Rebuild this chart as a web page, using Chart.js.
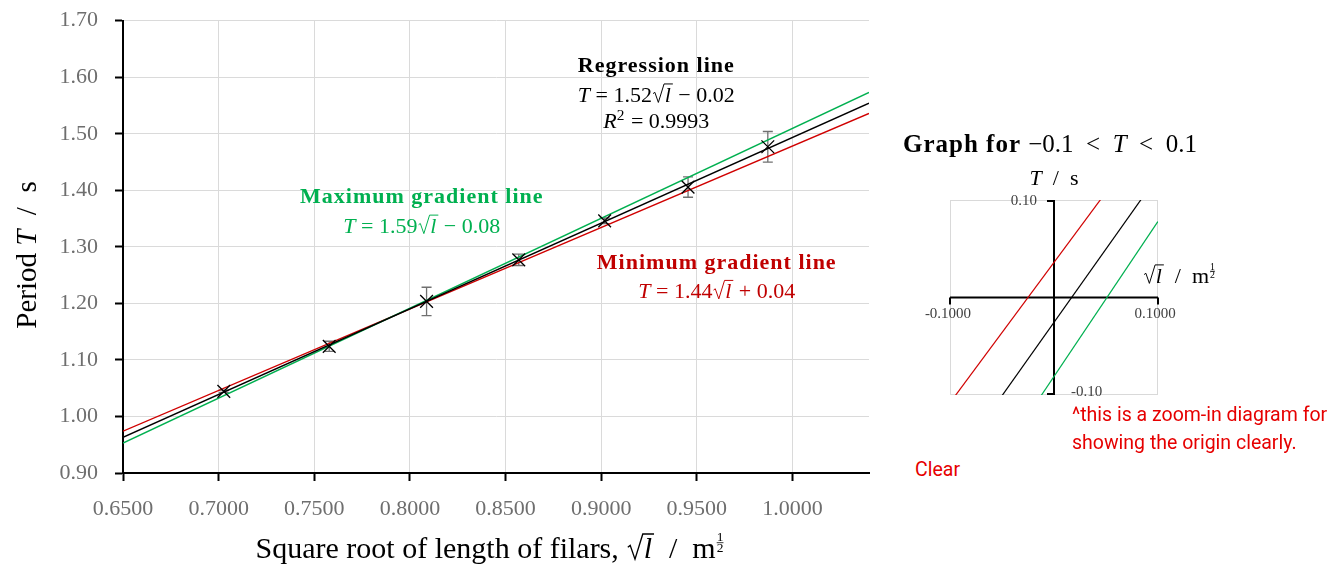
<!DOCTYPE html>
<html>
<head>
<meta charset="utf-8">
<script src="https://cdn.jsdelivr.net/npm/chart.js@4.4.1/dist/chart.umd.min.js"></script>
<style>
  body { margin: 0; background: #fff; width: 1330px; height: 565px; position: relative; overflow: hidden; }
  #main { position: absolute; left: 0; top: 0; }
  #zoom { position: absolute; left: 890px; top: 120px; }
  .note { position: absolute; font-family: Roboto, sans-serif; font-size: 19.5px; color: #e60000; line-height: 28px; white-space: nowrap; }
</style>
</head>
<body>
<canvas id="main" width="880" height="565"></canvas>
<canvas id="zoom" width="440" height="290"></canvas>
<div class="note" style="left:1072px;top:401px">^this is a zoom-in diagram for<br>showing the origin clearly.</div>
<div class="note" style="left:915px;top:456px">Clear</div>
<script>
var sqrtLength = [0.7027, 0.7578, 0.8087, 0.8569, 0.9018, 0.9454, 0.9871];
var period = [1.0445, 1.124, 1.2035, 1.277, 1.346, 1.4057, 1.477];
var periodError = [0.002, 0.009, 0.025, 0.010, 0.005, 0.018, 0.027];

// fitted lines, end values at the edges of the main plot
var lineX = [0.65, 1.04];
var regressionT = [0.963, 1.554];
var maxGradientT = [0.953, 1.573];
var minGradientT = [0.974, 1.536];

// same lines near the origin (zoom-in graph)
var zoomX = [-0.1, 0.1];
var zoomRegressionT = [-0.176, 0.125];
var zoomMaxGradientT = [-0.240, 0.078];
var zoomMinGradientT = [-0.108, 0.180];

// axis ranges
var xRange = [0.65, 1.04], xStep = 0.05;
var yRange = [0.90, 1.70], yStep = 0.10;

var SERIF = '"Liberation Serif", "Times New Roman", serif';
var GREEN = '#00b050', RED = '#d00000', RED_TEXT = '#c00000';

function fontFor(style, size) {
  return (style || '') + ' ' + size + 'px ' + SERIF;
}

// segments: {t, i (italic), b (bold)}, {sqrt}, {sup}, {frac:[a,b]}
function segWidth(ctx, s, size) {
  ctx.letterSpacing = '0px';
  if (s.sqrt) {
    ctx.font = fontFor('italic', size);
    return size * 0.58 + ctx.measureText(s.sqrt).width + 2;
  }
  if (s.sup) {
    ctx.font = fontFor('', size * 0.7);
    return ctx.measureText(s.sup).width + 1;
  }
  if (s.frac) {
    ctx.font = fontFor('', size * 0.45);
    return Math.max(ctx.measureText(s.frac[0]).width, ctx.measureText(s.frac[1]).width) + 2;
  }
  ctx.font = fontFor((s.i ? 'italic ' : '') + (s.b ? 'bold' : ''), size);
  if (s.b) ctx.letterSpacing = '1px';
  var w = ctx.measureText(s.t).width;
  ctx.letterSpacing = '0px';
  return w;
}

function drawRich(ctx, segs, x, y, size, color, align) {
  var widths = segs.map(function(s) { return segWidth(ctx, s, size); });
  var total = widths.reduce(function(a, b) { return a + b; }, 0);
  var cx = align === 'center' ? x - total / 2 : (align === 'right' ? x - total : x);
  ctx.save();
  ctx.fillStyle = color;
  ctx.strokeStyle = color;
  ctx.textAlign = 'left';
  ctx.textBaseline = 'alphabetic';
  segs.forEach(function(s, k) {
    ctx.letterSpacing = '0px';
    if (s.sqrt) {
      var end = cx + widths[k];
      ctx.lineWidth = size * 0.045;
      ctx.lineJoin = 'miter';
      ctx.beginPath();
      ctx.moveTo(cx + size * 0.05, y - size * 0.36);
      ctx.lineTo(cx + size * 0.13, y - size * 0.42);
      ctx.lineTo(cx + size * 0.29, y + size * 0.04);
      ctx.lineTo(cx + size * 0.55, y - size * 0.80);
      ctx.lineTo(end, y - size * 0.80);
      ctx.stroke();
      ctx.font = fontFor('italic', size);
      ctx.fillText(s.sqrt, cx + size * 0.58, y);
    } else if (s.sup) {
      ctx.font = fontFor('', size * 0.7);
      ctx.fillText(s.sup, cx, y - size * 0.38);
    } else if (s.frac) {
      var fs = size * 0.45;
      ctx.font = fontFor('', fs);
      var w = widths[k] - 2;
      ctx.textAlign = 'center';
      ctx.fillText(s.frac[0], cx + 1 + w / 2, y - size * 0.56);
      ctx.fillText(s.frac[1], cx + 1 + w / 2, y - size * 0.20);
      ctx.textAlign = 'left';
      ctx.lineWidth = 0.8;
      ctx.beginPath();
      ctx.moveTo(cx + 1, y - size * 0.51);
      ctx.lineTo(cx + 1 + w, y - size * 0.51);
      ctx.stroke();
    } else {
      ctx.font = fontFor((s.i ? 'italic ' : '') + (s.b ? 'bold' : ''), size);
      if (s.b) ctx.letterSpacing = '1px';
      ctx.fillText(s.t, cx, y);
    }
    cx += widths[k];
  });
  ctx.restore();
}

// text boxes on the main plot: anchor in axis units (baseline, centred)
var mainLabels = [
  { x: 0.9288, y: 1.610, color: '#000', segs: [{ t: 'Regression line', b: 1 }] },
  { x: 0.9288, y: 1.557, color: '#000', segs: [{ t: 'T', i: 1 }, { t: ' = 1.52' }, { sqrt: 'l' }, { t: ' − 0.02' }] },
  { x: 0.9288, y: 1.510, color: '#000', segs: [{ t: 'R', i: 1 }, { sup: '2' }, { t: ' = 0.9993' }] },
  { x: 0.8062, y: 1.378, color: GREEN, segs: [{ t: 'Maximum gradient line', b: 1 }] },
  { x: 0.8062, y: 1.325, color: GREEN, segs: [{ t: 'T', i: 1 }, { t: ' = 1.59' }, { sqrt: 'l' }, { t: ' − 0.08' }] },
  { x: 0.9604, y: 1.261, color: RED_TEXT, segs: [{ t: 'Minimum gradient line', b: 1 }] },
  { x: 0.9604, y: 1.2095, color: RED_TEXT, segs: [{ t: 'T', i: 1 }, { t: ' = 1.44' }, { sqrt: 'l' }, { t: ' + 0.04' }] }
];

var errorBars = {
  id: 'errorBars',
  beforeDatasetsDraw: function(chart) {
    var ctx = chart.ctx, xs = chart.scales.x, ys = chart.scales.y;
    ctx.save();
    ctx.strokeStyle = '#707070';
    ctx.lineWidth = 1.3;
    sqrtLength.forEach(function(v, i) {
      var px = xs.getPixelForValue(v);
      var top = ys.getPixelForValue(period[i] + periodError[i]);
      var bot = ys.getPixelForValue(period[i] - periodError[i]);
      ctx.beginPath();
      ctx.moveTo(px, top); ctx.lineTo(px, bot);
      ctx.moveTo(px - 5, top); ctx.lineTo(px + 5, top);
      ctx.moveTo(px - 5, bot); ctx.lineTo(px + 5, bot);
      ctx.stroke();
    });
    ctx.restore();
  }
};

var mainText = {
  id: 'mainText',
  afterDraw: function(chart) {
    var ctx = chart.ctx, xs = chart.scales.x, ys = chart.scales.y;
    mainLabels.forEach(function(l) {
      drawRich(ctx, l.segs, xs.getPixelForValue(l.x), ys.getPixelForValue(l.y), 22, l.color, 'center');
    });
    // axis titles
    ctx.save();
    ctx.translate(36, 255);
    ctx.rotate(-Math.PI / 2);
    drawRich(ctx, [{ t: 'Period ' }, { t: 'T', i: 1 }, { t: '  /  s' }], 0, 0, 29, '#000', 'center');
    ctx.restore();
    drawRich(ctx, [{ t: 'Square root of length of filars, ' }, { sqrt: 'l' }, { t: '  /  m' }, { frac: ['1', '2'] }],
      490, 558, 30, '#000', 'center');
  }
};

function linePoints(xv, yv) {
  return xv.map(function(x, i) { return { x: x, y: yv[i] }; });
}

new Chart(document.getElementById('main'), {
  type: 'scatter',
  data: {
    datasets: [
      { label: 'Period', data: linePoints(sqrtLength, period), pointStyle: 'crossRot', pointRadius: 9,
        borderColor: '#000', backgroundColor: '#000', borderWidth: 1.3 },
      { label: 'Regression line', data: linePoints(lineX, regressionT), showLine: true, borderColor: '#000', borderWidth: 1.4, pointRadius: 0 },
      { label: 'Maximum gradient line', data: linePoints(lineX, maxGradientT), showLine: true, borderColor: GREEN, borderWidth: 1.4, pointRadius: 0 },
      { label: 'Minimum gradient line', data: linePoints(lineX, minGradientT), showLine: true, borderColor: RED, borderWidth: 1.4, pointRadius: 0 }
    ]
  },
  options: {
    responsive: false,
    animation: false,
    events: [],
    layout: { padding: { left: 0, top: 20.7, right: 11, bottom: 0 } },
    plugins: { legend: { display: false }, tooltip: { enabled: false } },
    scales: {
      x: {
        type: 'linear', min: xRange[0], max: xRange[1],
        afterFit: function(s) { s.height = 92; },
        ticks: { stepSize: xStep, includeBounds: false, autoSkip: false, maxRotation: 0, padding: 15,
          color: '#6e6e6e', font: { family: SERIF, size: 22 },
          callback: function(v) { return v.toFixed(4); } },
        grid: { color: '#dadada', lineWidth: 1, tickColor: '#000', tickLength: 8, tickWidth: 2 },
        border: { color: '#000', width: 2 }
      },
      y: {
        type: 'linear', min: yRange[0], max: yRange[1],
        afterFit: function(s) { s.width = 123; s.paddingTop = 0; s.paddingBottom = 0; },
        ticks: { stepSize: yStep, padding: 17, color: '#6e6e6e', font: { family: SERIF, size: 22 },
          callback: function(v) { return v.toFixed(2); } },
        grid: { color: '#dadada', lineWidth: 1, tickColor: '#000', tickLength: 8, tickWidth: 2 },
        border: { color: '#000', width: 2 }
      }
    }
  },
  plugins: [errorBars, mainText]
});

// zoom-in graph around the origin
var zoomAxes = {
  id: 'zoomAxes',
  beforeDatasetsDraw: function(chart) {
    var ctx = chart.ctx, a = chart.chartArea, xs = chart.scales.x, ys = chart.scales.y;
    var x0 = xs.getPixelForValue(0), y0 = ys.getPixelForValue(0);
    ctx.save();
    ctx.strokeStyle = '#d9d9d9';
    ctx.lineWidth = 1;
    ctx.strokeRect(a.left + 0.5, a.top + 0.5, a.right - a.left - 1, a.bottom - a.top - 1);
    ctx.strokeStyle = '#000';
    ctx.lineWidth = 2;
    ctx.beginPath();
    ctx.moveTo(a.left, y0); ctx.lineTo(a.right, y0);
    ctx.moveTo(x0, a.top); ctx.lineTo(x0, a.bottom);
    ctx.moveTo(a.left, y0); ctx.lineTo(a.left, y0 + 7);
    ctx.moveTo(a.right, y0); ctx.lineTo(a.right, y0 + 7);
    ctx.moveTo(x0 - 7, a.top + 1); ctx.lineTo(x0, a.top + 1);
    ctx.moveTo(x0 - 7, a.bottom - 1); ctx.lineTo(x0, a.bottom - 1);
    ctx.stroke();
    ctx.restore();
  },
  afterDraw: function(chart) {
    var ctx = chart.ctx, a = chart.chartArea, xs = chart.scales.x, ys = chart.scales.y;
    var x0 = xs.getPixelForValue(0), y0 = ys.getPixelForValue(0);
    ctx.save();
    ctx.fillStyle = '#404040';
    ctx.font = fontFor('', 15);
    ctx.textBaseline = 'middle';
    ctx.textAlign = 'right';
    ctx.fillText('0.10', x0 - 17, ys.getPixelForValue(0.1) + 1);
    ctx.textAlign = 'left';
    ctx.fillText('-0.10', x0 + 17, ys.getPixelForValue(-0.1) - 3);
    ctx.textAlign = 'center';
    ctx.fillText('-0.1000', xs.getPixelForValue(-0.1) - 2, y0 + 17);
    ctx.fillText('0.1000', xs.getPixelForValue(0.1) - 3, y0 + 17);
    ctx.restore();
    drawRich(ctx, [{ t: 'Graph for ', b: 1 }, { t: '−0.1  <  ' }, { t: 'T', i: 1 }, { t: '  <  0.1' }], 13, 32, 25, '#000', 'left');
    drawRich(ctx, [{ t: 'T', i: 1 }, { t: '  /  s' }], x0, 65, 22, '#000', 'center');
    drawRich(ctx, [{ sqrt: 'l' }, { t: '  /  m' }, { frac: ['1', '2'] }], a.right - 15, y0 - 15, 22, '#000', 'left');
  }
};

new Chart(document.getElementById('zoom'), {
  type: 'scatter',
  data: {
    datasets: [
      { label: 'Regression line', data: linePoints(zoomX, zoomRegressionT), showLine: true, borderColor: '#000', borderWidth: 1.2, pointRadius: 0 },
      { label: 'Maximum gradient line', data: linePoints(zoomX, zoomMaxGradientT), showLine: true, borderColor: GREEN, borderWidth: 1.2, pointRadius: 0 },
      { label: 'Minimum gradient line', data: linePoints(zoomX, zoomMinGradientT), showLine: true, borderColor: RED, borderWidth: 1.2, pointRadius: 0 }
    ]
  },
  options: {
    responsive: false,
    animation: false,
    events: [],
    layout: { padding: { left: 60, top: 80, right: 172, bottom: 15 } },
    plugins: { legend: { display: false }, tooltip: { enabled: false } },
    scales: {
      x: { type: 'linear', min: -0.1, max: 0.1, display: false },
      y: { type: 'linear', min: -0.1, max: 0.1, display: false }
    }
  },
  plugins: [zoomAxes]
});
</script>
</body>
</html>
